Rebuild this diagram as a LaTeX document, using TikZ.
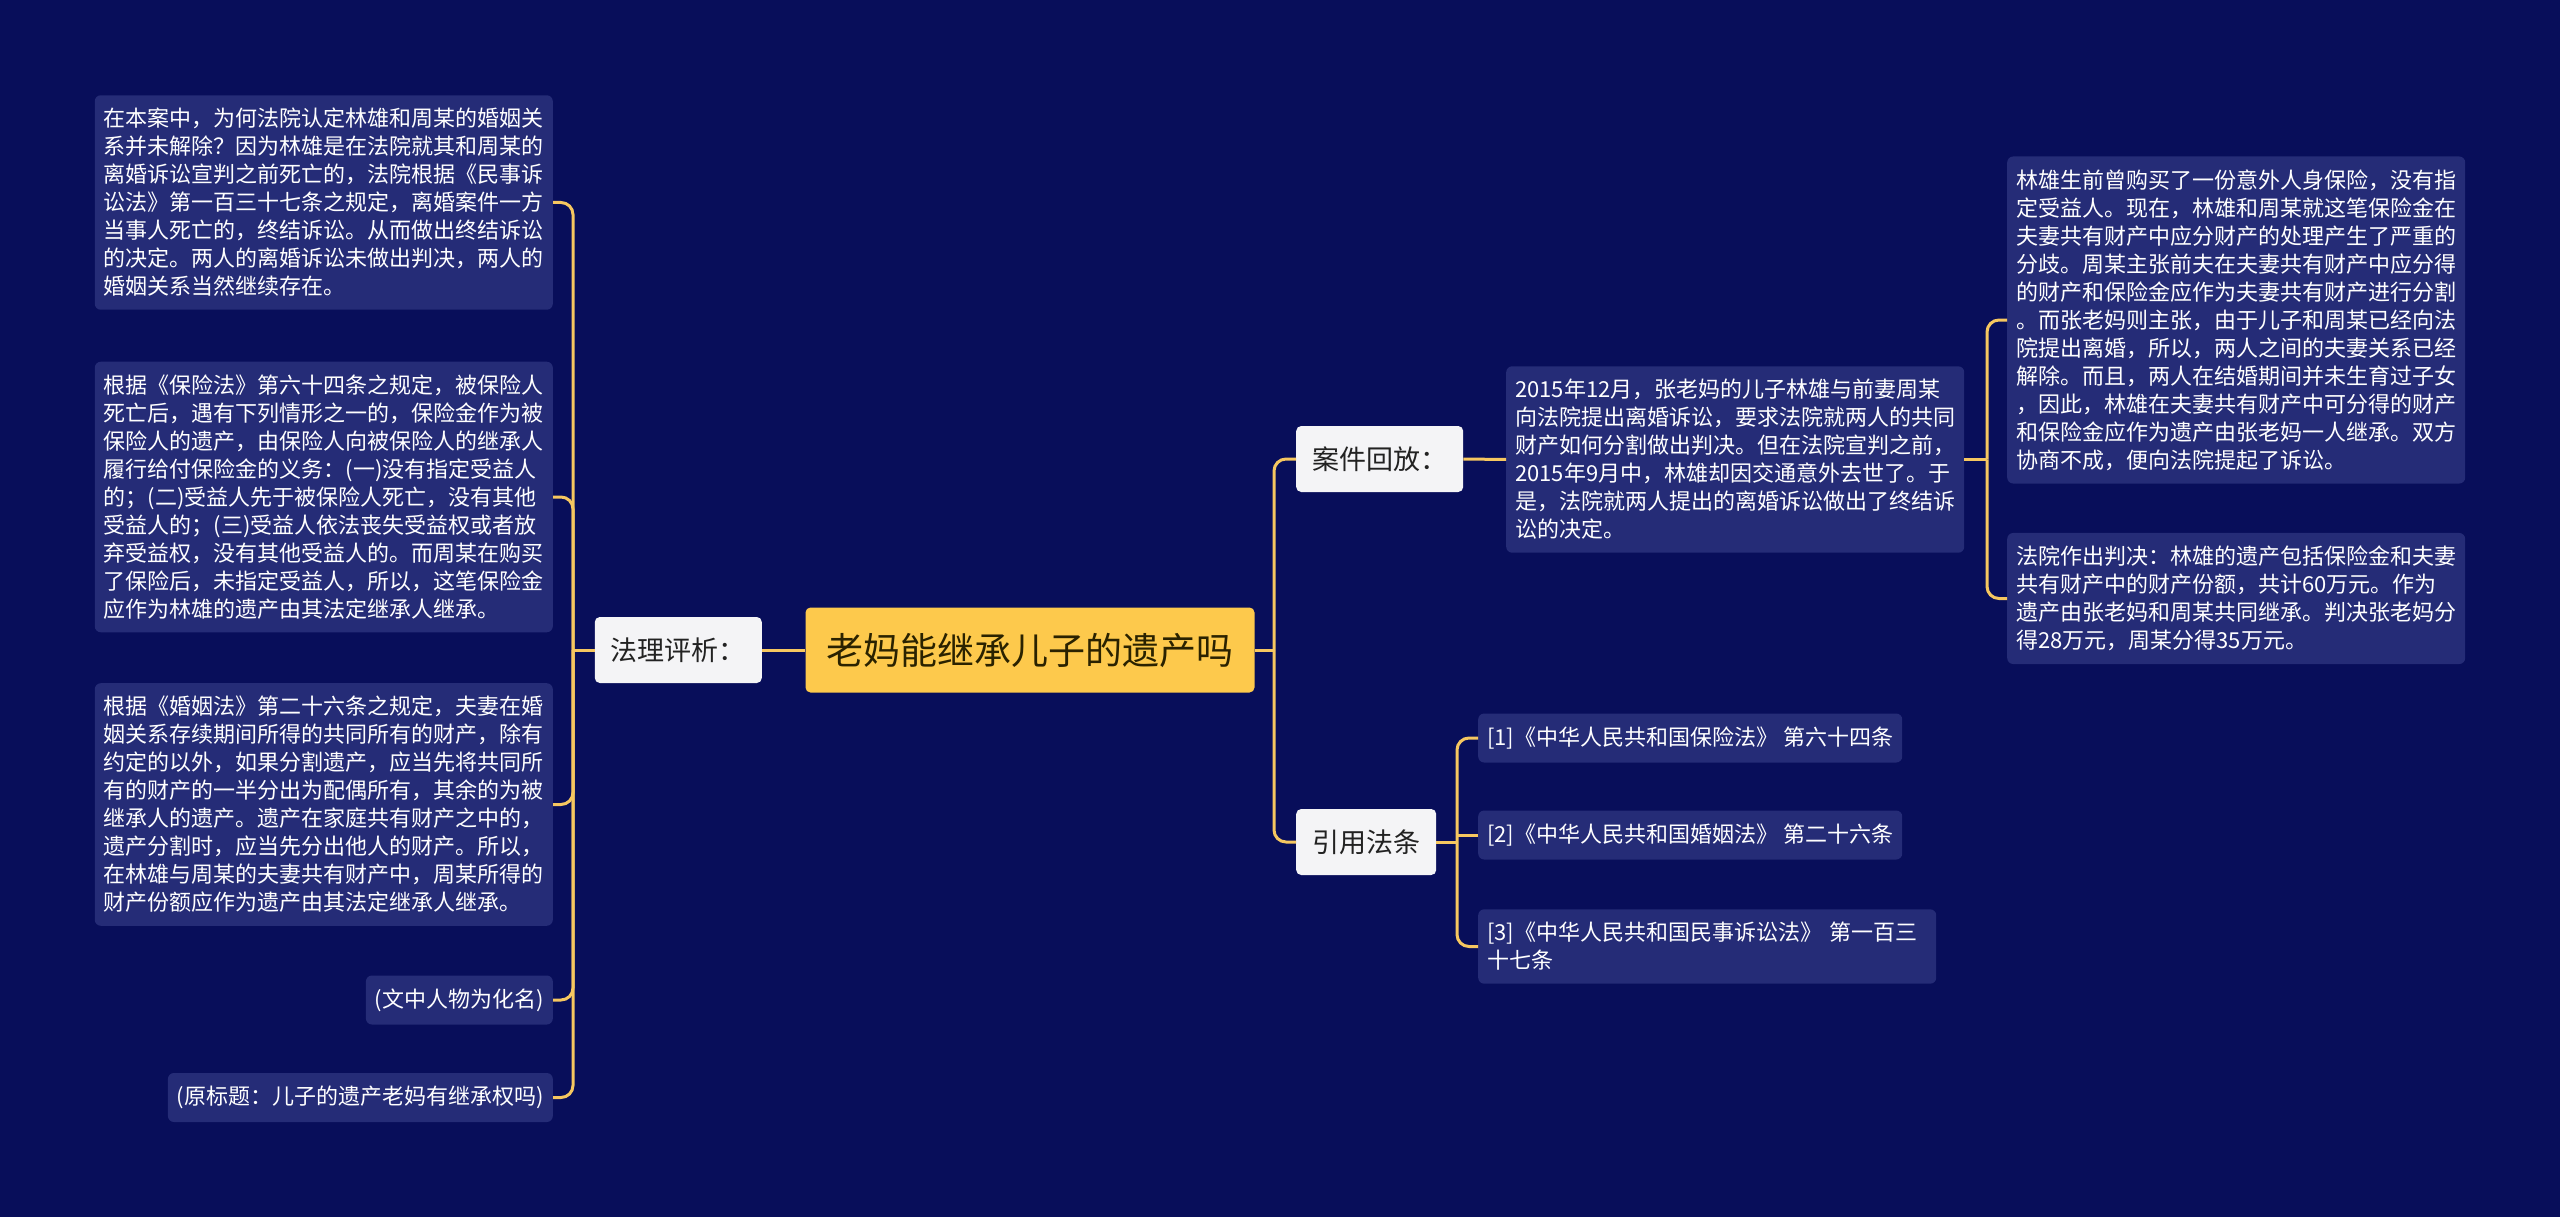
\documentclass[tikz,border=0pt]{standalone}
\usepackage{fontspec}
\setmainfont{Noto Sans CJK SC}
\usepackage{tikz}

\definecolor{bgnavy}{HTML}{080E5A}
\definecolor{leafblue}{HTML}{252C77}
\definecolor{rootyellow}{HTML}{FDC94C}
\definecolor{rootink}{HTML}{2A2200}
\definecolor{branchwhite}{HTML}{F4F4F6}
\definecolor{branchink}{HTML}{222222}
\definecolor{linkyellow}{HTML}{F6C760}

\begin{document}
\begin{tikzpicture}[
    x=1pt, y=-1pt,
    root/.style={fill=rootyellow, text=rootink, rounded corners=5pt, minimum height=85pt, inner xsep=21pt, font=\fontsize{37}{44}\selectfont},
    branch/.style={fill=branchwhite, text=branchink, rounded corners=5pt, minimum height=66pt, inner xsep=16pt, font=\fontsize{27}{32}\selectfont},
    leaf/.style={fill=leafblue, text=white, rounded corners=6pt, align=left, inner xsep=9pt, inner ysep=13pt, font=\fontsize{22}{28}\selectfont},
    wide/.style={leaf, text width=440pt},
    short/.style={leaf, minimum height=49pt},
    link/.style={draw=linkyellow, line width=3pt, rounded corners=12pt}
]

\fill[bgnavy] (0,0) rectangle (2560,1217);
\useasboundingbox (0,0) rectangle (2560,1217);

% Wurzelknoten
\node[root] (root) at (1030,650) {老妈能继承儿子的遗产吗};

\node[branch, anchor=east] (fali) at (762,650) {法理评析：};
\node[branch, anchor=west] (anli) at (1296,459) {案件回放：};
\node[branch, anchor=west] (yinyong) at (1296,842) {引用法条};

% links
\node[wide, anchor=east] (fa1) at (553,202.5) {在本案中，为何法院认定林雄和周某的婚姻关\\系并未解除？因为林雄是在法院就其和周某的\\离婚诉讼宣判之前死亡的，法院根据《民事诉\\讼法》第一百三十七条之规定，离婚案件一方\\当事人死亡的，终结诉讼。从而做出终结诉讼\\的决定。两人的离婚诉讼未做出判决，两人的\\婚姻关系当然继续存在。};
\node[wide, anchor=east] (fa2) at (553,497) {根据《保险法》第六十四条之规定，被保险人\\死亡后，遇有下列情形之一的，保险金作为被\\保险人的遗产，由保险人向被保险人的继承人\\履行给付保险金的义务：(一)没有指定受益人\\的；(二)受益人先于被保险人死亡，没有其他\\受益人的；(三)受益人依法丧失受益权或者放\\弃受益权，没有其他受益人的。而周某在购买\\了保险后，未指定受益人，所以，这笔保险金\\应作为林雄的遗产由其法定继承人继承。};
\node[wide, anchor=east] (fa3) at (553,804.5) {根据《婚姻法》第二十六条之规定，夫妻在婚\\姻关系存续期间所得的共同所有的财产，除有\\约定的以外，如果分割遗产，应当先将共同所\\有的财产的一半分出为配偶所有，其余的为被\\继承人的遗产。遗产在家庭共有财产之中的，\\遗产分割时，应当先分出他人的财产。所以，\\在林雄与周某的夫妻共有财产中，周某所得的\\财产份额应作为遗产由其法定继承人继承。};
\node[short, anchor=east] (fa4) at (553,1000) {(文中人物为化名)};
\node[short, anchor=east] (fa5) at (553,1097.5) {(原标题：儿子的遗产老妈有继承权吗)};

% rechts
\node[wide, anchor=west] (fall) at (1506,459.5) {2015年12月，张老妈的儿子林雄与前妻周某\\向法院提出离婚诉讼，要求法院就两人的共同\\财产如何分割做出判决。但在法院宣判之前，\\2015年9月中，林雄却因交通意外去世了。于\\是，法院就两人提出的离婚诉讼做出了终结诉\\讼的决定。};
\node[wide, anchor=west] (streit) at (2007,320) {林雄生前曾购买了一份意外人身保险，没有指\\定受益人。现在，林雄和周某就这笔保险金在\\夫妻共有财产中应分财产的处理产生了严重的\\分歧。周某主张前夫在夫妻共有财产中应分得\\的财产和保险金应作为夫妻共有财产进行分割\\。而张老妈则主张，由于儿子和周某已经向法\\院提出离婚，所以，两人之间的夫妻关系已经\\解除。而且，两人在结婚期间并未生育过子女\\，因此，林雄在夫妻共有财产中可分得的财产\\和保险金应作为遗产由张老妈一人继承。双方\\协商不成，便向法院提起了诉讼。};
\node[wide, anchor=west] (urteil) at (2007,598.5) {法院作出判决：林雄的遗产包括保险金和夫妻\\共有财产中的财产份额，共计60万元。作为\\遗产由张老妈和周某共同继承。判决张老妈分\\得28万元，周某分得35万元。};

\node[short, anchor=west] (c1) at (1478,738) {[1]《中华人民共和国保险法》 第六十四条};
\node[short, anchor=west] (c2) at (1478,835) {[2]《中华人民共和国婚姻法》 第二十六条};
\node[wide, anchor=west] (c3) at (1478,946.5) {[3]《中华人民共和国民事诉讼法》 第一百三\\十七条};

\coordinate (lbus) at (573,650);
\coordinate (rbus) at (1274,650);
\coordinate (fbus) at (1987,459.5);
\coordinate (ybus) at (1457,842);

\draw[link] (root.west) -- (fali.east);
\draw[link] (fali.west) -- (lbus);
\draw[link] (lbus) |- (fa1.east);
\draw[link] (lbus) |- (fa2.east);
\draw[link] (lbus) |- (fa3.east);
\draw[link] (lbus) |- (fa4.east);
\draw[link] (lbus) |- (fa5.east);

\draw[link] (root.east) -- (rbus);
\draw[link] (rbus) |- (anli.west);
\draw[link] (rbus) |- (yinyong.west);

\draw[link] (anli.east) -- (fall.west);
\draw[link] (fall.east) -- (fbus);
\draw[link] (fbus) |- (streit.west);
\draw[link] (fbus) |- (urteil.west);

\draw[link] (yinyong.east) -- (ybus);
\draw[link] (ybus) |- (c1.west);
\draw[link] (ybus |- c2.west) -- (c2.west);
\draw[link] (ybus) |- (c3.west);

\end{tikzpicture}
\end{document}
